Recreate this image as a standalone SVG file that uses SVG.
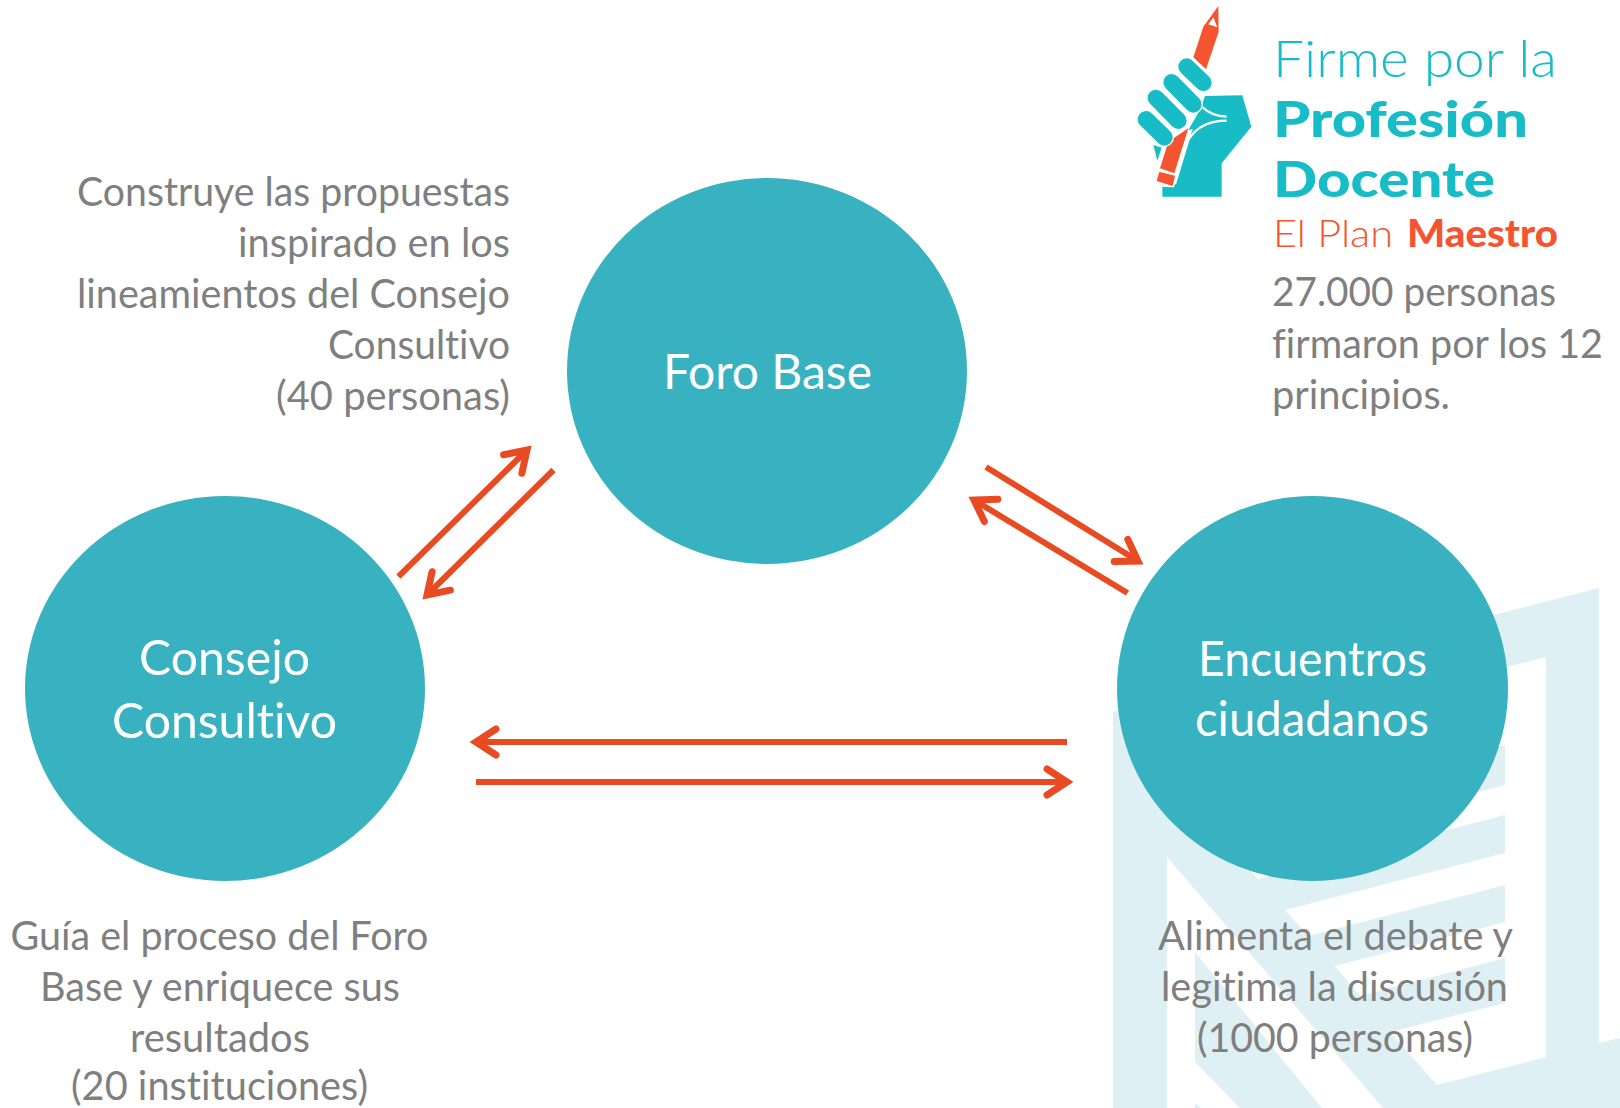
<svg xmlns="http://www.w3.org/2000/svg" width="1620" height="1108" viewBox="0 0 1620 1108">
<style>
text{font-family:Lato,"Open Sans",Carlito,sans-serif;font-variant-ligatures:none}
.t{font-size:40px;fill:#7f7f7f}
.c{font-size:48px;fill:#fff}
.n{fill:#38b2c0}
.w{fill:#dff0f5}
.h{fill:#fff}
.a{fill:none;stroke:#e84a21;stroke-width:6;marker-end:url(#ah)}
.lt{fill:#17bcc7}
.lo{fill:#f45530}
</style>
<defs>
<marker id="ah" markerUnits="userSpaceOnUse" markerWidth="50" markerHeight="50" refX="36" refY="25" orient="auto" overflow="visible">
<path d="M16,12 L36,25 L16,38" fill="none" stroke="#e84a21" stroke-width="7" stroke-linecap="round" stroke-miterlimit="6"/>
</marker>
</defs>
<g id="watermark">
<polygon class="w" points="1113,712 1599,588 1599,1043 1620,1038 1620,1108 1113,1108"/>
<polygon class="h" points="1505,667.5 1546,657 1546,1057 1437,1085 1390,1032 1505,1003"/>
<polygon class="h" points="1505,667.5 1400,695 1400,773 1505,745"/>
<polygon class="h" points="1505,785 1237,855 1258,879 1505,815"/>
<polygon class="h" points="1505,853 1285,910 1308,936 1505,885"/>
<polygon class="h" points="1505,922 1335,966 1360,996 1505,958"/>
<polygon class="h" points="1167,857 1383,1108 1167,1108"/>
<polygon class="w" points="1195,952 1322,1108 1240,1108 1195,1062"/>
<polygon class="w" points="1195,1103 1201,1108 1195,1108"/>
</g>
<g id="logo">
<g transform="translate(1120,0) scale(.3333)">
<path class="lt" d="M255,288 L367,286 L394,380 L305,490 V590 H127 V560 L162,562 L208,415 L240,330 Z"/>
<polygon class="lt" points="100,435 125,443 112,482"/>
<path class="lt" d="M205,390 L240,330 L318,350 L318,365 Z"/>
<path d="M248,322 Q275,348 320,350 M320,362 Q240,362 205,420 L165,552" fill="none" stroke="#fff" stroke-width="7"/>
<polygon class="lo" points="295,18 296,95 258,208 220,172 250,80"/>
<polygon class="h" points="280,52 292,82 265,73"/>
<polygon class="lo" points="205,385 163,520 120,505 145,425"/>
<polygon class="lo" points="118,515 165,527 158,558 110,543"/>
<g fill="none" stroke-linecap="round">
<path d="M200,200 L250,248 M155,247 L220,313 M108,294 L175,362 M78,358 L133,412" stroke="#fff" stroke-width="58"/>
<path d="M200,200 L250,248 M155,247 L220,313 M108,294 L175,362 M78,358 L133,412" stroke="#17bcc7" stroke-width="50"/>
</g>
</g>
<text class="lt" x="1273" y="77" font-size="52" font-weight="300" textLength="284" lengthAdjust="spacingAndGlyphs">Firme por la</text>
<text class="lt" x="1273" y="137" font-size="50" font-weight="900" textLength="255" lengthAdjust="spacingAndGlyphs">Profesión</text>
<text class="lt" x="1273" y="197" font-size="50" font-weight="900" textLength="222" lengthAdjust="spacingAndGlyphs">Docente</text>
<text class="lo" x="1273" y="247" font-size="37" font-weight="300" textLength="120" lengthAdjust="spacingAndGlyphs">El Plan</text>
<text class="lo" x="1407" y="247" font-size="37" font-weight="900" textLength="151" lengthAdjust="spacingAndGlyphs">Maestro</text>
</g>
<g id="connectors">
<line class="a" x1="398.4" y1="576.7" x2="527" y2="450"/>
<line class="a" x1="553.5" y1="470" x2="427" y2="595"/>
<line class="a" x1="986" y1="467" x2="1138" y2="561"/>
<line class="a" x1="1127.5" y1="593" x2="974" y2="500"/>
<line class="a" x1="1067" y1="742" x2="476" y2="742"/>
<line class="a" x1="476" y1="782" x2="1067" y2="782"/>
</g>
<g id="foro-base">
<ellipse class="n" cx="767" cy="371" rx="200" ry="193"/>
<text class="c" x="663" y="389" textLength="209" lengthAdjust="spacingAndGlyphs">Foro Base</text>
</g>
<g id="consejo-consultivo">
<ellipse class="n" cx="225" cy="688.5" rx="200" ry="192.5"/>
<text class="c" x="139" y="675" textLength="171" lengthAdjust="spacingAndGlyphs">Consejo</text>
<text class="c" x="112" y="738" textLength="225" lengthAdjust="spacingAndGlyphs">Consultivo</text>
</g>
<g id="encuentros-ciudadanos">
<ellipse class="n" cx="1312.5" cy="688.5" rx="195.5" ry="192.5"/>
<text class="c" x="1198" y="676" textLength="229" lengthAdjust="spacingAndGlyphs">Encuentros</text>
<text class="c" x="1195" y="736" textLength="234" lengthAdjust="spacingAndGlyphs">ciudadanos</text>
</g>
<g id="texto-foro-base">
<text class="t" x="77" y="206" textLength="433" lengthAdjust="spacingAndGlyphs">Construye las propuestas</text>
<text class="t" x="238" y="257" textLength="272" lengthAdjust="spacingAndGlyphs">inspirado en los</text>
<text class="t" x="77" y="308" textLength="433" lengthAdjust="spacingAndGlyphs">lineamientos del Consejo</text>
<text class="t" x="328" y="359" textLength="182" lengthAdjust="spacingAndGlyphs">Consultivo</text>
<text class="t" x="276" y="410" textLength="234" lengthAdjust="spacingAndGlyphs">(40 personas)</text>
</g>
<g id="texto-firmas">
<text class="t" x="1272" y="306" textLength="284" lengthAdjust="spacingAndGlyphs">27.000 personas</text>
<text class="t" x="1272" y="358" textLength="331" lengthAdjust="spacingAndGlyphs">firmaron por los 12</text>
<text class="t" x="1272" y="409" textLength="178" lengthAdjust="spacingAndGlyphs">principios.</text>
</g>
<g id="texto-consejo">
<text class="t" x="10.5" y="950" textLength="418" lengthAdjust="spacingAndGlyphs">Guía el proceso del Foro</text>
<text class="t" x="40" y="1001" textLength="360" lengthAdjust="spacingAndGlyphs">Base y enriquece sus</text>
<text class="t" x="130" y="1052" textLength="180" lengthAdjust="spacingAndGlyphs">resultados</text>
<text class="t" x="71" y="1100" textLength="297" lengthAdjust="spacingAndGlyphs">(20 instituciones)</text>
</g>
<g id="texto-encuentros">
<text class="t" x="1158" y="950" textLength="355" lengthAdjust="spacingAndGlyphs">Alimenta el debate y</text>
<text class="t" x="1161" y="1001" textLength="347" lengthAdjust="spacingAndGlyphs">legitima la discusión</text>
<text class="t" x="1197" y="1052" textLength="276" lengthAdjust="spacingAndGlyphs">(1000 personas)</text>
</g>
</svg>
